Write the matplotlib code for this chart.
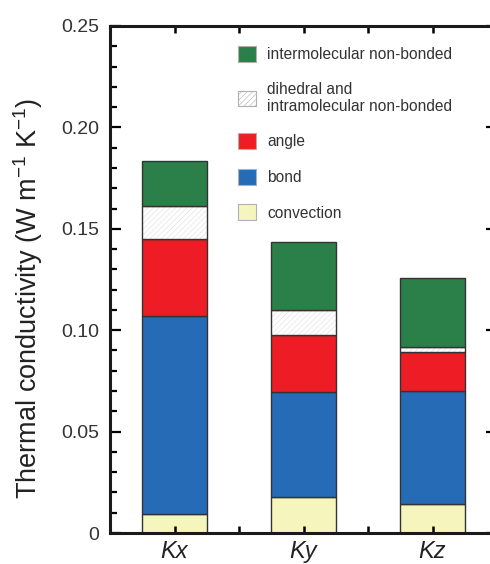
import numpy as np
import matplotlib
matplotlib.use('Agg')
import matplotlib.pyplot as plt
from matplotlib.patches import Patch
from matplotlib.ticker import MultipleLocator, FixedLocator

plt.rcParams['font.family'] = ['Liberation Sans', 'DejaVu Sans']
plt.rcParams['mathtext.fontset'] = 'custom'
plt.rcParams['mathtext.rm'] = 'Liberation Sans'
plt.rcParams['mathtext.it'] = 'Liberation Sans:italic'
plt.rcParams['hatch.linewidth'] = 0.4

# data (W m-1 K-1), stacked bottom -> top
labels = ['Kx', 'Ky', 'Kz']
convection = [0.0094, 0.0179, 0.0143]
bond = [0.0975, 0.0514, 0.0555]
angle = [0.0382, 0.0284, 0.0196]
dihedral = [0.0159, 0.0125, 0.0022]
intermolecular = [0.0225, 0.0331, 0.0339]

green = '#2a8048'
red = '#ee1c24'
blue = '#256bb5'
yellow = '#f6f5bd'
edge = '#333333'

fig = plt.figure(figsize=(4.9, 5.64), dpi=100)
ax = fig.add_axes([110/490, 1 - 533/564, 387/490, 507/564])

x = np.arange(len(labels))
w = 0.5
b0 = np.zeros(3)
ax.bar(x, convection, w, bottom=b0, color=yellow, edgecolor=edge, linewidth=1)
b1 = b0 + np.array(convection)
ax.bar(x, bond, w, bottom=b1, color=blue, edgecolor=edge, linewidth=1)
b2 = b1 + np.array(bond)
ax.bar(x, angle, w, bottom=b2, color=red, edgecolor=edge, linewidth=1)
b3 = b2 + np.array(angle)
ax.bar(x, dihedral, w, bottom=b3, color='white', edgecolor='#dddddd', hatch='//////', linewidth=0)
ax.bar(x, dihedral, w, bottom=b3, color='none', edgecolor=edge, linewidth=1)
b4 = b3 + np.array(dihedral)
ax.bar(x, intermolecular, w, bottom=b4, color=green, edgecolor=edge, linewidth=1)

ax.set_xlim(-0.5, 2.5)
ax.set_ylim(0, 0.25)

ax.xaxis.set_major_locator(FixedLocator(x))
ax.xaxis.set_minor_locator(FixedLocator([0.5, 1.5]))
ax.set_xticklabels(labels, fontsize=17, style='italic', color='#222222')
ax.yaxis.set_minor_locator(MultipleLocator(0.01))
ax.set_yticks([0, 0.05, 0.10, 0.15, 0.20, 0.25])
ax.set_yticklabels(['0', '0.05', '0.10', '0.15', '0.20', '0.25'], fontsize=14, color='#333333')

ax.tick_params(axis='x', which='both', direction='in', top=True, bottom=True,
               length=5, width=1.8, pad=5)
ax.tick_params(axis='y', which='major', direction='in', left=True, right=True,
               length=8, width=1.6, pad=8)
ax.tick_params(axis='y', which='minor', direction='in', left=True, right=True,
               length=5, width=1.6)
for s in ax.spines.values():
    s.set_linewidth(2.2)
    s.set_color('#1a1a1a')

ax.set_ylabel('Thermal conductivity (W m$^{-1}$ K$^{-1}$)', fontsize=19.5, color='#222222')
ax.yaxis.set_label_coords(-0.168, 0.462)

handles = [
    Patch(facecolor=green, edgecolor='#b0b0b0', linewidth=0.8),
    Patch(facecolor='white', edgecolor='#b0b0b0', hatch='//////', linewidth=0.8),
    Patch(facecolor=red, edgecolor='#b0b0b0', linewidth=0.8),
    Patch(facecolor=blue, edgecolor='#b0b0b0', linewidth=0.8),
    Patch(facecolor=yellow, edgecolor='#b0b0b0', linewidth=0.8),
]
names = ['intermolecular non-bonded', 'dihedral and\nintramolecular non-bonded',
         'angle', 'bond', 'convection']
leg = ax.legend(handles, names, loc='upper left', bbox_to_anchor=(238/490, 1 - 46/564),
                bbox_transform=fig.transFigure, frameon=False, fontsize=11.2,
                handlelength=1.17, handleheight=1.17, handletextpad=0.7,
                labelspacing=1.25, borderaxespad=0, borderpad=0)
for t in leg.get_texts():
    t.set_color('#333333')

fig.savefig('out.png', dpi=100)
